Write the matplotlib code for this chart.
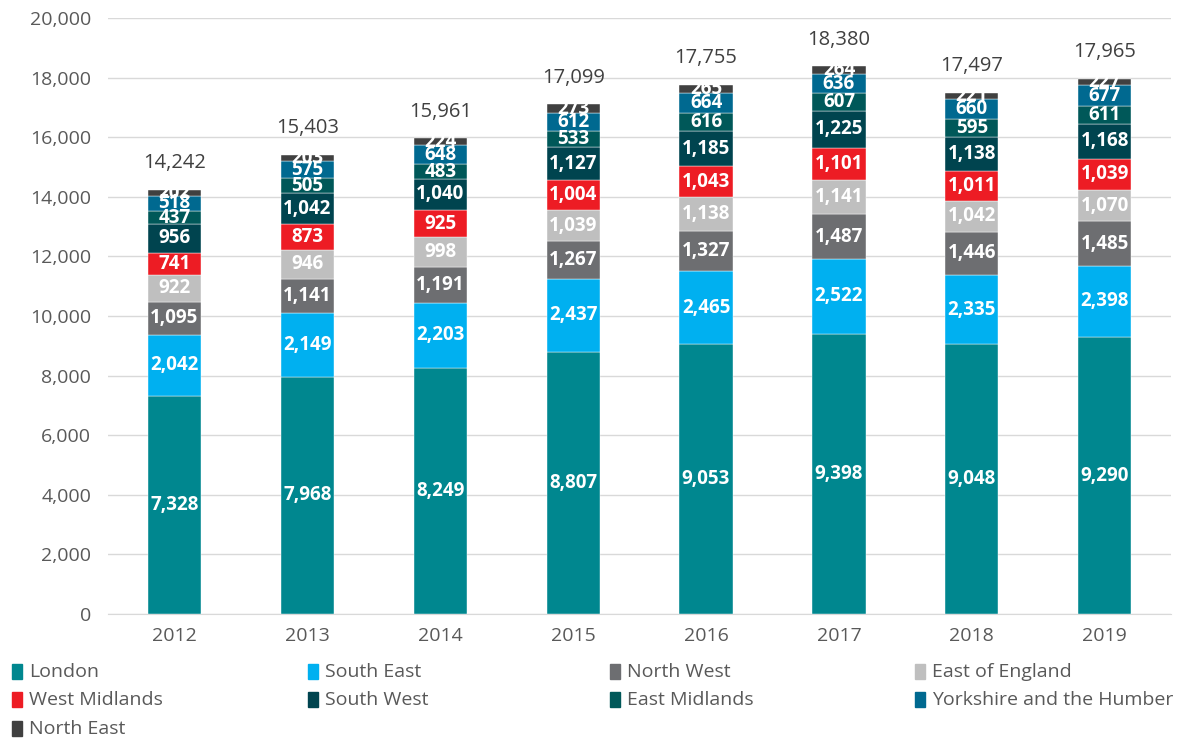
import matplotlib
matplotlib.use("Agg")
import matplotlib.pyplot as plt
from matplotlib.patches import Rectangle
import numpy as np

plt.rcParams['font.family'] = ['Open Sans', 'DejaVu Sans']

years = ["2012", "2013", "2014", "2015", "2016", "2017", "2018", "2019"]
regions = ["London", "South East", "North West", "East of England", "West Midlands",
           "South West", "East Midlands", "Yorkshire and the Humber", "North East"]
london = [7328, 7968, 8249, 8807, 9053, 9398, 9048, 9290]
south_east = [2042, 2149, 2203, 2437, 2465, 2522, 2335, 2398]
north_west = [1095, 1141, 1191, 1267, 1327, 1487, 1446, 1485]
east_of_england = [922, 946, 998, 1039, 1138, 1141, 1042, 1070]
west_midlands = [741, 873, 925, 1004, 1043, 1101, 1011, 1039]
south_west = [956, 1042, 1040, 1127, 1185, 1225, 1138, 1168]
east_midlands = [437, 505, 483, 533, 616, 607, 595, 611]
yorkshire = [518, 575, 648, 612, 664, 636, 660, 677]
north_east = [202, 203, 224, 273, 265, 264, 221, 227]
totals = [14242, 15403, 15961, 17099, 17755, 18380, 17497, 17965]

series = [london, south_east, north_west, east_of_england, west_midlands,
          south_west, east_midlands, yorkshire, north_east]
colors = ["#00878F", "#00B0F0", "#6D6E71", "#BFBFBF", "#ED1C24",
          "#00444F", "#005859", "#006990", "#404040"]

fig = plt.figure(figsize=(12, 7.42), dpi=100)
ax = fig.add_axes([0.09, 0.1725, 0.886, 0.8032])

x = np.arange(len(years))
bottom = np.zeros(len(years))
for vals, col in zip(series, colors):
    v = np.array(vals, dtype=float)
    ax.bar(x, v, 0.4, bottom=bottom, color=col, edgecolor='white', linewidth=0.3, zorder=3)
    for xi, b, val in zip(x, bottom, v):
        ax.text(xi, b + val / 2, f"{int(val):,}", ha='center', va='center',
                color='white', fontsize=13.5, fontweight='bold', zorder=4)
    bottom += v

for xi, t, top in zip(x, totals, bottom):
    ax.annotate(f"{t:,}", (xi, top), xytext=(0, 12), textcoords='offset points',
                ha='center', va='bottom', fontsize=14.5, color='#404040')

ax.set_xlim(-0.5, 7.5)
ax.set_ylim(0, 20000)
ax.set_yticks(np.arange(0, 20001, 2000))
ax.set_yticklabels([f"{v:,}" for v in range(0, 20001, 2000)])
ax.set_xticks(x)
ax.set_xticklabels(years)
ax.tick_params(axis='both', length=0, labelsize=14, labelcolor='#595959')
ax.tick_params(axis='x', pad=9)
ax.tick_params(axis='y', pad=12)
ax.grid(axis='y', color='#D9D9D9', linewidth=1, zorder=0)
for s in ['top', 'right', 'left']:
    ax.spines[s].set_visible(False)
ax.spines['bottom'].set_color('#D9D9D9')

# legend drawn manually in 4 columns
col_x = [12, 308, 610, 915]
row_y = [672, 700, 729]
for i, (name, col) in enumerate(zip(regions, colors)):
    r, c = divmod(i, 4)
    px, py = col_x[c], row_y[r]
    fig.patches.append(Rectangle((px / 1200, 1 - (py + 7) / 742), 10 / 1200, 15 / 742,
                                 transform=fig.transFigure, color=col))
    fig.text((px + 17) / 1200, 1 - py / 742, name, ha='left', va='center',
             fontsize=14, color='#595959')

fig.savefig("out.png", dpi=100)
